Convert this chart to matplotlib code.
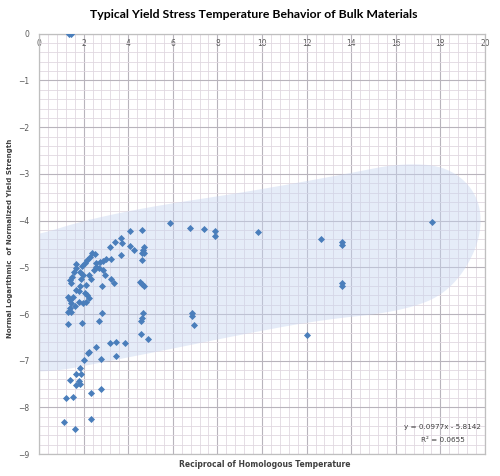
import numpy as np
import matplotlib
matplotlib.use("Agg")
import matplotlib.pyplot as plt
from matplotlib.patches import Polygon
from matplotlib.ticker import MultipleLocator

# reciprocal of homologous temperature / normal log of normalized yield strength
x_vals = [1.35, 1.45,
          5.86, 6.79, 7.38, 7.91, 7.91, 4.07, 4.63, 3.69, 3.74, 3.39, 3.17, 4.07,
          4.26, 4.70, 4.67, 4.60, 4.70, 4.63, 3.69, 3.24, 3.02, 2.87, 2.72, 2.57,
          2.39, 2.50, 2.27, 2.15, 2.05, 1.94, 1.64, 1.67, 1.55, 1.49, 1.40, 1.45,
          1.82, 1.97, 1.90, 2.24, 2.35, 2.47, 2.57, 2.69, 2.87, 2.96, 3.24, 3.36,
          2.84, 2.09, 1.82, 1.64, 1.79, 2.05, 2.15, 2.24, 2.12, 1.97, 1.79, 1.52,
          1.30, 1.38, 1.45, 1.60, 1.38, 1.30, 1.45, 2.84, 4.51, 4.63, 4.70, 4.66,
          4.60, 6.85, 6.88,
          9.82, 12.66, 13.60, 13.60, 13.60, 13.60, 17.64, 12.02,
          1.30, 1.94, 2.69, 4.57, 6.97, 4.57, 4.89, 3.17, 3.44, 3.86, 2.57, 2.24,
          2.20, 3.44, 2.78, 2.02, 1.82, 1.64, 1.90, 1.40, 1.78, 1.64, 1.82, 2.78,
          2.33, 1.52, 1.23, 1.14, 2.33, 1.61]
y_vals = [0.0, 0.0,
          -4.06, -4.16, -4.19, -4.22, -4.34, -4.22, -4.20, -4.38, -4.47, -4.45, -4.57, -4.54,
          -4.63, -4.56, -4.63, -4.70, -4.69, -4.84, -4.74, -4.82, -4.83, -4.86, -4.88, -4.91,
          -4.70, -4.71, -4.77, -4.84, -4.91, -4.97, -4.93, -5.02, -5.09, -5.20, -5.27, -5.34,
          -5.09, -5.16, -5.26, -5.16, -5.24, -5.06, -5.00, -5.02, -5.06, -5.16, -5.26, -5.34,
          -5.41, -5.38, -5.41, -5.49, -5.50, -5.54, -5.59, -5.66, -5.74, -5.76, -5.74, -5.63,
          -5.63, -5.70, -5.77, -5.83, -5.88, -5.95, -5.95, -5.97, -5.31, -5.36, -5.40, -5.97,
          -6.09, -5.97, -6.04,
          -4.24, -4.39, -4.45, -4.52, -5.33, -5.40, -4.03, -6.45,
          -6.21, -6.19, -6.16, -6.14, -6.24, -6.43, -6.54, -6.63, -6.59, -6.63, -6.70, -6.81,
          -6.83, -6.90, -6.96, -6.99, -7.15, -7.29, -7.29, -7.41, -7.43, -7.52, -7.49, -7.61,
          -7.69, -7.77, -7.79, -8.31, -8.25, -8.46]

# outline of the shaded band (left part runs past the axis and gets clipped)
band_x = [-2.0, 0.0, 2.0, 5.0, 9.4, 13.9, 16.2, 18.4, 19.8, 19.8, 18.4, 16.2, 12.6, 9.4, 5.7, 2.7, 0.5, -2.0]
band_y = [-4.45, -4.3, -4.0, -3.7, -3.38, -2.99, -2.77, -2.84, -3.5, -4.5, -5.55, -5.95, -6.13, -6.41, -6.77, -7.05, -7.25, -7.2]


def chaikin(px, py, n=4):
    pts = np.column_stack([px, py])
    for _ in range(n):
        nxt = np.roll(pts, -1, axis=0)
        q = 0.75 * pts + 0.25 * nxt
        r = 0.25 * pts + 0.75 * nxt
        pts = np.empty((2 * len(q), 2))
        pts[0::2] = q
        pts[1::2] = r
    return pts


fig = plt.figure(figsize=(5.0, 4.76), dpi=100)
ax = fig.add_axes([0.078, 0.046, 0.892, 0.883])

ax.add_patch(Polygon(chaikin(band_x, band_y), closed=True, facecolor="#c7d5f0",
                     edgecolor="none", alpha=0.45, zorder=1))

ax.scatter(x_vals, y_vals, marker="D", s=13, color="#4a7ebb", zorder=3, linewidths=0)

ax.set_xlim(0, 20)
ax.set_ylim(-9, 0)
ax.xaxis.set_major_locator(MultipleLocator(2))
ax.xaxis.set_minor_locator(MultipleLocator(0.4))
ax.yaxis.set_major_locator(MultipleLocator(1))
ax.yaxis.set_minor_locator(MultipleLocator(0.2))
ax.grid(which="major", color="#b8b4bc", linewidth=0.8, zorder=0)
ax.grid(which="minor", color="#e0d8e0", linewidth=0.6, zorder=0)
ax.set_axisbelow(True)

for s in ax.spines.values():
    s.set_color("#bfbfbf")
    s.set_linewidth(0.9)

ax.xaxis.tick_top()
ax.tick_params(axis="x", which="both", length=0, pad=-10, labelsize=5.5, labelcolor="#595959")
ax.tick_params(axis="y", which="both", length=0, pad=7, labelsize=5.5, labelcolor="#595959")
ax.set_xticks(range(0, 21, 2))
ax.set_yticks(range(-9, 1))

fig.text(0.508, 0.97, "Typical Yield Stress Temperature Behavior of Bulk Materials",
         ha="center", va="center", fontsize=8.8, fontweight="bold", family="Lato")
fig.text(0.53, 0.025, "Reciprocal of Homologous Temperature", ha="center", va="center",
         fontsize=5.5, fontweight="bold", color="#404040")
fig.text(0.02, 0.5, "Normal Logarithmic  of Normalized Yield Strength", ha="center",
         va="center", rotation=90, fontsize=5, fontweight="bold", color="#404040")

ax.text(18.1, -8.42, "y = 0.0977x - 5.8142", ha="center", va="center", fontsize=5.2, color="#404040")
ax.text(18.1, -8.7, "R² = 0.0655", ha="center", va="center", fontsize=5.2, color="#404040")

fig.savefig("out.png", dpi=100)
